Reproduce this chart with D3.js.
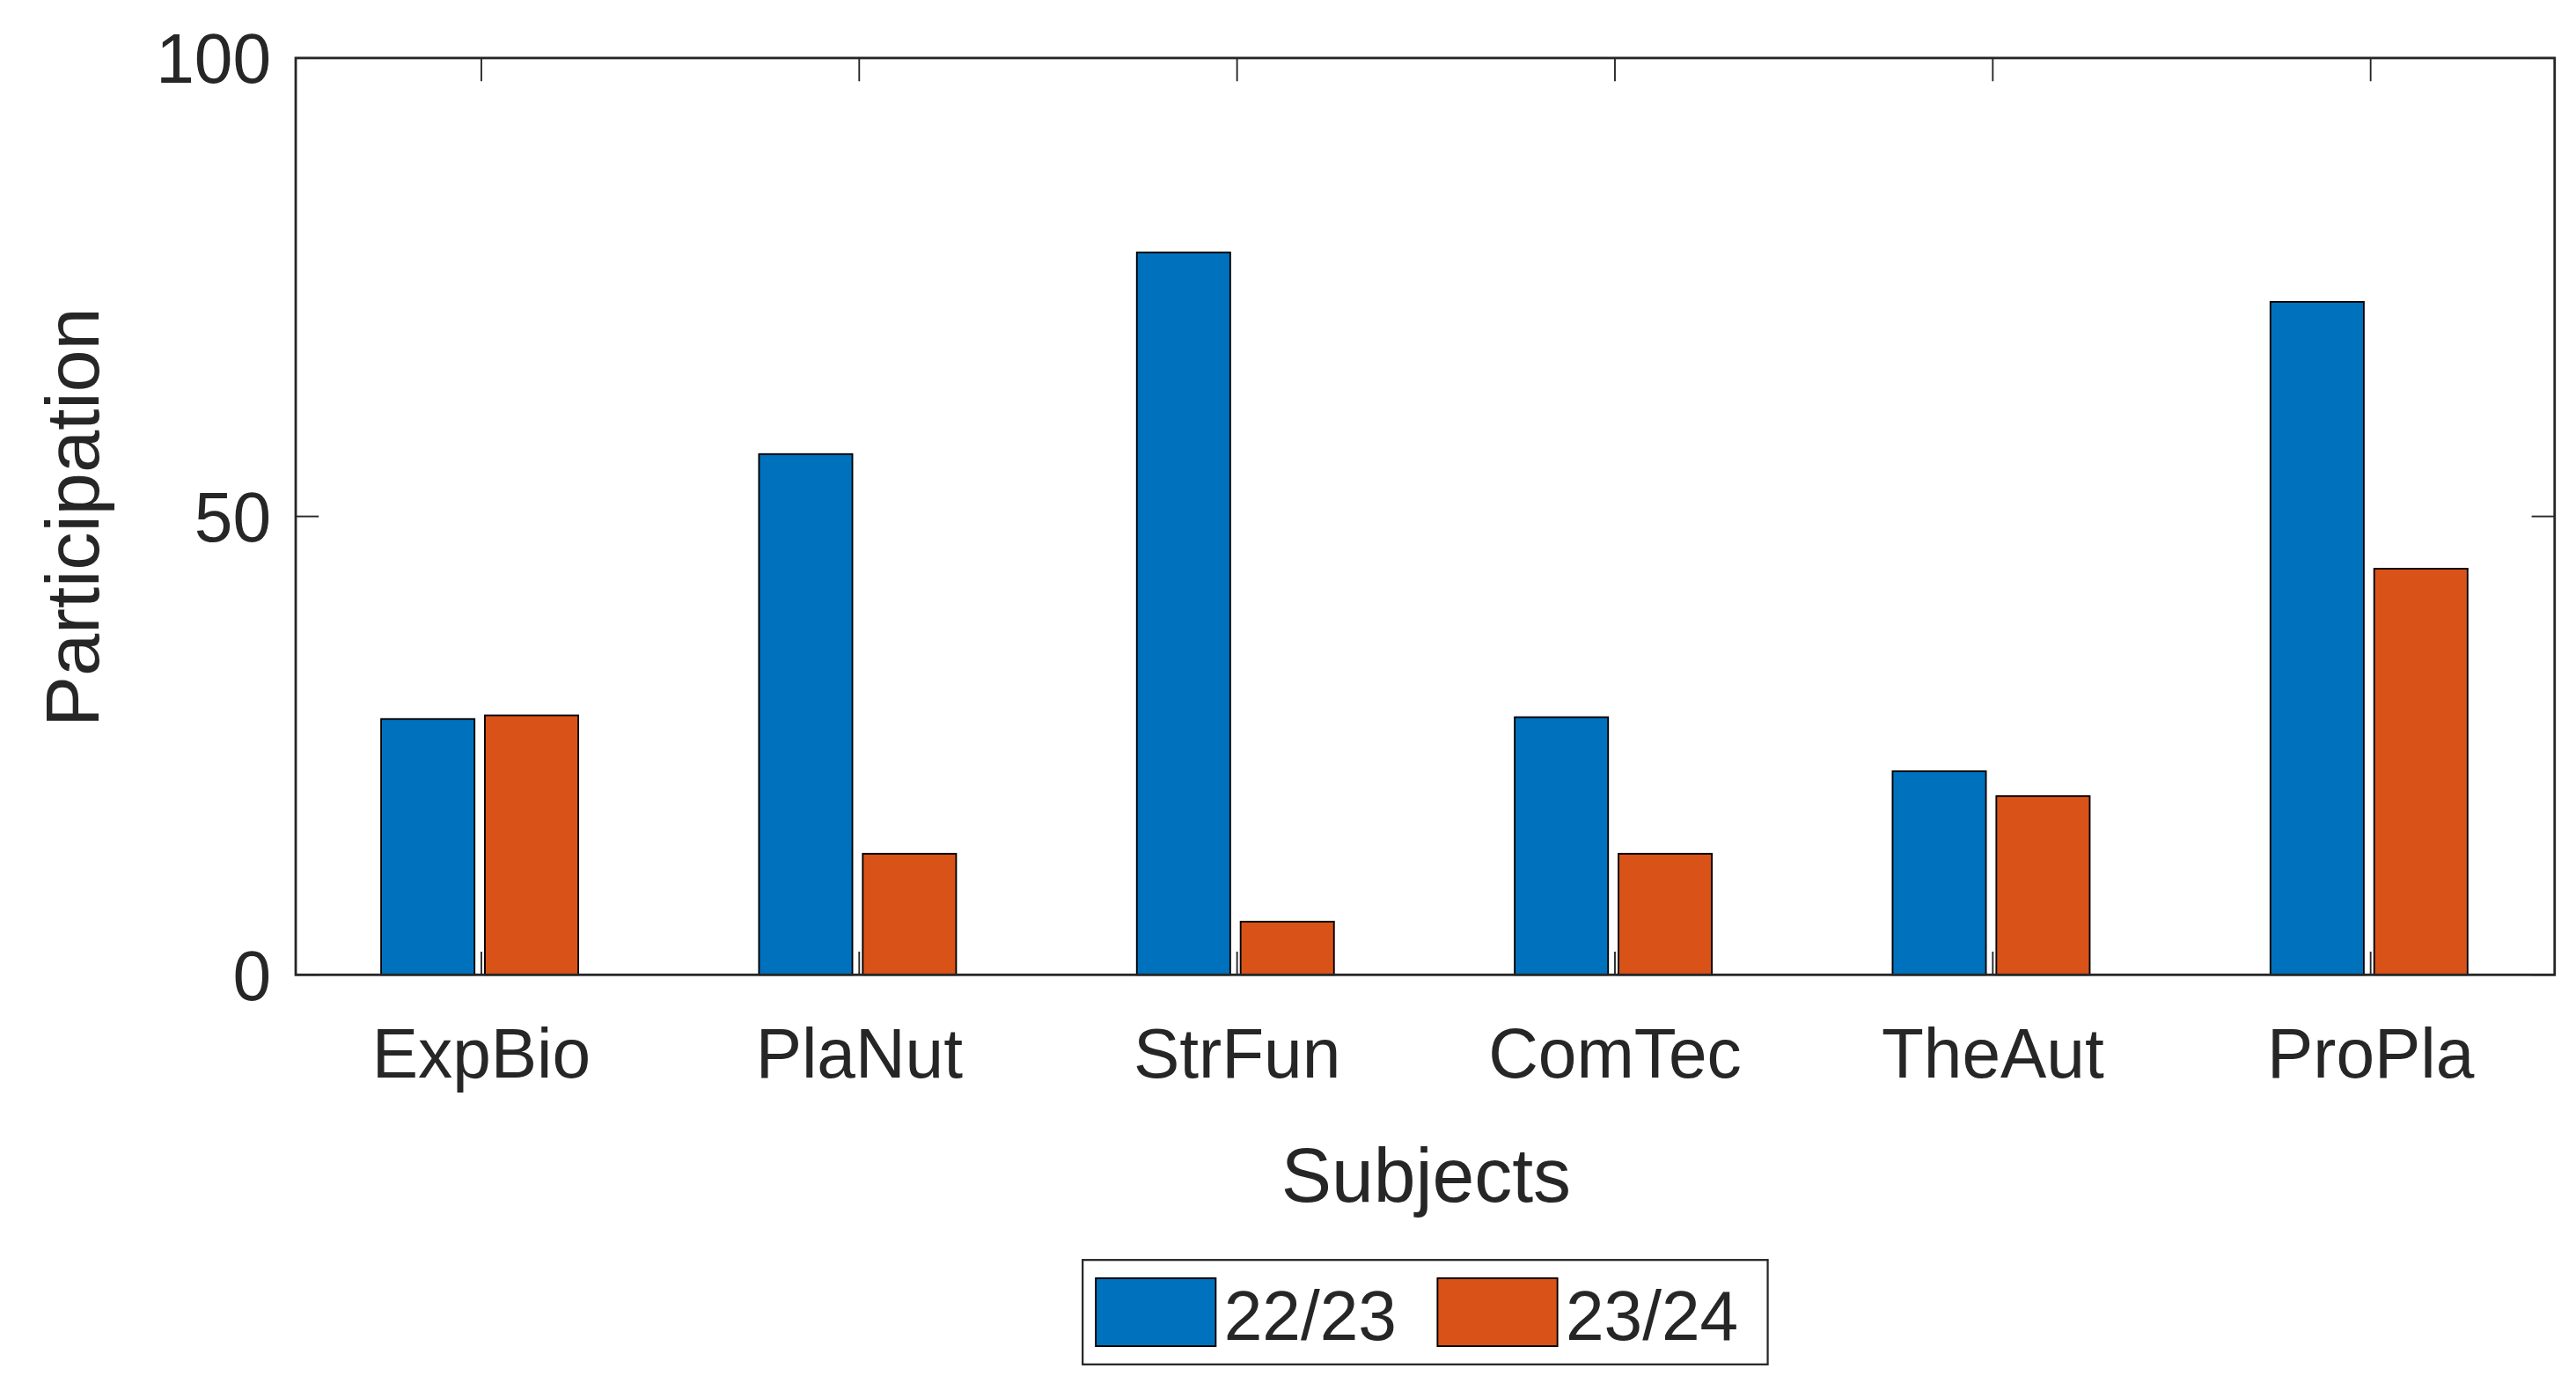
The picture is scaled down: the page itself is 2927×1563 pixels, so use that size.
<!DOCTYPE html>
<html><head><meta charset="utf-8">
<script src="https://cdn.jsdelivr.net/npm/d3@7"></script>
<style>body{margin:0;background:#fff}svg{display:block}</style>
</head><body>
<script>
var subjects = ["ExpBio", "PlaNut", "StrFun", "ComTec", "TheAut", "ProPla"];
var series = ["22/23", "23/24"];
var v2223 = [27.9, 56.8, 78.8, 28.1, 22.2, 73.4];
var v2324 = [28.3, 13.2, 5.8, 13.2, 19.5, 44.3];
var colors = ["#0072BD", "#D95319"];
var yTicks = [0, 50, 100];

var W = 1568, H = 830;
var m = {l: 180, r: 1555, t: 35, b: 588};
var svg = d3.select("body").append("svg")
  .attr("width", 2927).attr("height", 1563)
  .attr("viewBox", "0 0 " + W + " " + H)
  .attr("preserveAspectRatio", "none")
  .style("font-family", "Liberation Sans, Arial, sans-serif");

var x = d3.scaleBand().domain(subjects).range([m.l + 0, m.r + 0]).paddingInner(0).paddingOuter(0);
var xs = d3.scaleBand().domain(series).range([-61, 59]).paddingInner(0.1);
var y = d3.scaleLinear().domain([0, 100]).range([m.b, m.t]);
var cx = function(d){ return 293 + subjects.indexOf(d) * 230; };

var vals = [v2223, v2324];
series.forEach(function(s, si){
  svg.append("g").selectAll("rect").data(subjects).join("rect")
    .attr("x", function(d){ return cx(d) + xs(s); })
    .attr("width", xs.bandwidth())
    .attr("y", function(d, i){ return y(vals[si][i]); })
    .attr("height", function(d, i){ return y(0) - y(vals[si][i]); })
    .attr("fill", colors[si]).attr("stroke", "#000").attr("stroke-width", 1);
});

// box
svg.append("rect").attr("x", m.l).attr("y", m.t).attr("width", m.r - m.l).attr("height", m.b - m.t)
  .attr("fill", "none").attr("stroke", "#262626").attr("stroke-width", 1.5);

// x ticks (inward, top and bottom)
subjects.forEach(function(d){
  svg.append("line").attr("x1", cx(d)).attr("x2", cx(d)).attr("y1", m.b).attr("y2", m.b - 14).attr("stroke", "#262626");
  svg.append("line").attr("x1", cx(d)).attr("x2", cx(d)).attr("y1", m.t).attr("y2", m.t + 14).attr("stroke", "#262626");
  svg.append("text").attr("x", cx(d)).attr("y", 650).attr("text-anchor", "middle")
    .attr("font-size", 42).attr("fill", "#262626").text(d);
});
yTicks.forEach(function(t){
  svg.append("line").attr("x1", m.l).attr("x2", m.l + 14).attr("y1", y(t)).attr("y2", y(t)).attr("stroke", "#262626");
  svg.append("line").attr("x1", m.r).attr("x2", m.r - 14).attr("y1", y(t)).attr("y2", y(t)).attr("stroke", "#262626");
  svg.append("text").attr("x", 165).attr("y", y(t) + 15).attr("text-anchor", "end")
    .attr("font-size", 42).attr("fill", "#262626").text(t);
});

svg.append("text").attr("x", 868).attr("y", 725).attr("text-anchor", "middle")
  .attr("font-size", 46).attr("fill", "#262626").text("Subjects");
svg.append("text").attr("transform", "translate(60,312) rotate(-90)").attr("text-anchor", "middle")
  .attr("font-size", 46).attr("fill", "#262626").text("Participation");

// legend
var lg = svg.append("g");
lg.append("rect").attr("x", 659).attr("y", 760).attr("width", 417).attr("height", 63)
  .attr("fill", "#fff").attr("stroke", "#262626").attr("stroke-width", 1.2);
series.forEach(function(s, i){
  var lx = 667 + i * 208;
  lg.append("rect").attr("x", lx).attr("y", 771).attr("width", 73).attr("height", 41)
    .attr("fill", colors[i]).attr("stroke", "#000");
  lg.append("text").attr("x", lx + 78).attr("y", 808).attr("font-size", 42).attr("fill", "#262626").text(s);
});
</script>
</body></html>
